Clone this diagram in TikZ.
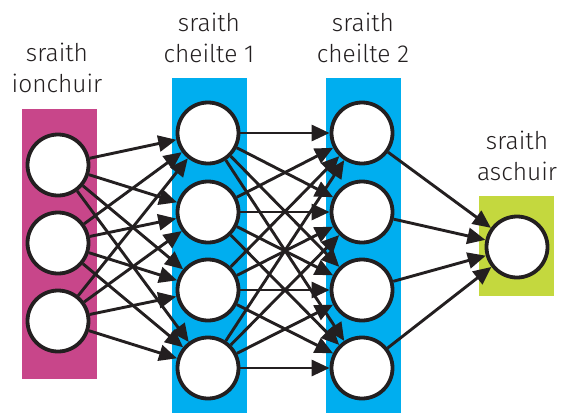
\documentclass[tikz,border=0pt]{standalone}
\usepackage{fontspec}
\setmainfont{Fira Sans Light}
\usetikzlibrary{arrows.meta}
\definecolor{inmag}{HTML}{C8468A}
\definecolor{hidblue}{HTML}{00AEEF}
\definecolor{outgreen}{HTML}{C4D83E}
\definecolor{ink}{HTML}{231F20}
\tikzset{
  neuron/.style={circle, draw=ink, line width=3.8pt, fill=white, minimum size=61pt, inner sep=0pt},
  conn/.style={draw=ink, line width=2.9pt, -{Triangle[length=18pt,width=16pt]}},
  lab/.style={align=center, text=ink, font=\fontsize{24.5}{31}\selectfont, anchor=base, inner sep=0pt}
}
\begin{document}
\begin{tikzpicture}[x=1pt,y=-1pt]
\useasboundingbox (0,0) rectangle (565,413);
% layer bands
\fill[inmag] (22,109) rectangle (97,379);
\fill[hidblue] (172,78) rectangle (247,413);
\fill[hidblue] (326,78) rectangle (401,413);
\fill[outgreen] (479,196) rectangle (554,296);
% labels
\node[lab] (lin1) at (57,61) {sraith};
\node[lab] (lin2) at (57,92) {ionchuir};
\node[lab] (lh11) at (209,31) {sraith};
\node[lab] (lh12) at (209,62) {cheilte 1};
\node[lab] (lh21) at (363,31) {sraith};
\node[lab] (lh22) at (363,62) {cheilte 2};
\node[lab] (lo1) at (517,149) {sraith};
\node[lab] (lo2) at (517,180) {aschuir};
% neurons
\node[neuron] (i1) at (58,165) {};
\node[neuron] (i2) at (58,243) {};
\node[neuron] (i3) at (58,321) {};
\node[neuron] (a1) at (208,133) {};
\node[neuron] (a2) at (208,212) {};
\node[neuron] (a3) at (208,290) {};
\node[neuron] (a4) at (208,368) {};
\node[neuron] (b1) at (362,133) {};
\node[neuron] (b2) at (362,212) {};
\node[neuron] (b3) at (362,290) {};
\node[neuron] (b4) at (362,368) {};
\node[neuron] (o1) at (517,247) {};
% connections
\foreach \s in {i1,i2,i3}{\foreach \t in {a1,a2,a3,a4}{\draw[conn] (\s) -- (\t);}}
\foreach \s in {a1,a2,a3,a4}{\foreach \t in {b1,b2,b3,b4}{\draw[conn] (\s) -- (\t);}}
\foreach \s in {b1,b2,b3,b4}{\draw[conn] (\s) -- (o1);}
\end{tikzpicture}
\end{document}
